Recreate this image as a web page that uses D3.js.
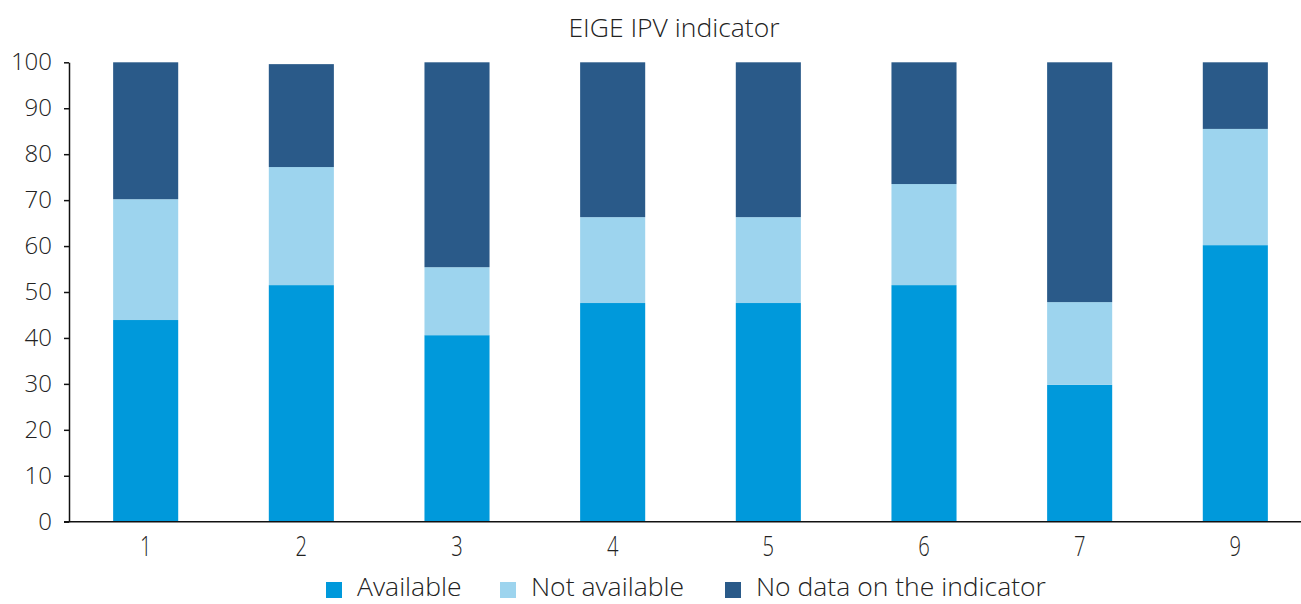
<!DOCTYPE html>
<html>
<head>
<meta charset="utf-8">
<script src="https://cdn.jsdelivr.net/npm/d3@7"></script>
<style>
  body { margin: 0; background: #fff; }
  text { font-family: 'Open Sans', sans-serif; font-weight: 300; fill: #222; }
</style>
</head>
<body>
<div id="chart"></div>
<script>
// values, in percent
const categories = ['1', '2', '3', '4', '5', '6', '7', '9'];
const available = [43.9, 51.5, 40.6, 47.6, 47.6, 51.5, 29.8, 60.2];
const notAvailable = [26.3, 25.7, 14.8, 18.7, 18.7, 22.0, 18.0, 25.3];
const noData = [29.8, 22.4, 44.6, 33.7, 33.7, 26.5, 52.2, 14.5];
const seriesNames = ['Available', 'Not available', 'No data on the indicator'];
const yTicks = [0, 10, 20, 30, 40, 50, 60, 70, 80, 90, 100];

const colors = ['#0099db', '#9dd4ee', '#2a5a89'];

const width = 1301, height = 604;
const margin = {top: 62.3, right: -12, bottom: 82.3, left: 68};

const svg = d3.select('#chart').append('svg')
    .attr('width', width)
    .attr('height', height);

const x = d3.scaleBand()
    .domain(categories)
    .range([margin.left, width - margin.right])
    .paddingInner(0.582)
    .paddingOuter(0.29);

const y = d3.scaleLinear()
    .domain([0, 100])
    .range([height - margin.bottom, margin.top]);

// rows for d3.stack
const rows = categories.map((c, i) => ({
  cat: c,
  'Available': available[i],
  'Not available': notAvailable[i],
  'No data on the indicator': noData[i]
}));
const stacked = d3.stack().keys(seriesNames)(rows);

svg.append('g')
  .selectAll('g')
  .data(stacked)
  .join('g')
    .attr('fill', (d, i) => colors[i])
  .selectAll('rect')
  .data(d => d)
  .join('rect')
    .attr('x', d => x(d.data.cat))
    .attr('width', x.bandwidth())
    .attr('y', d => y(d[1]))
    .attr('height', d => y(d[0]) - y(d[1]));

// Y axis
const yAxis = svg.append('g')
    .attr('transform', 'translate(' + (margin.left + 1) + ',0)')
    .call(d3.axisLeft(y).tickValues(yTicks).tickSize(5).tickSizeOuter(0).tickPadding(12));
yAxis.select('.domain').attr('stroke', '#111').attr('stroke-width', 1.5);
yAxis.selectAll('.tick line').attr('stroke', '#111').attr('stroke-width', 1.5);
yAxis.selectAll('.tick text')
    .style('font-size', '24px')
    .attr('fill', '#222');

// X axis
const xAxis = svg.append('g')
    .attr('transform', 'translate(0,' + y(0) + ')')
    .call(d3.axisBottom(x).tickSize(0).tickPadding(14));
xAxis.select('.domain')
    .attr('d', 'M' + (margin.left - 4) + ',0H' + width)
    .attr('stroke', '#111').attr('stroke-width', 1.5);
xAxis.selectAll('.tick text')
    .style('font-size', '28px')
    .attr('transform', 'scale(0.72,1)')   // labels look condensed in the original
    .attr('fill', '#222');

// title
svg.append('text')
    .attr('x', 674)
    .attr('y', 37)
    .attr('text-anchor', 'middle')
    .style('font-size', '26.5px')
    .text('EIGE IPV indicator');

// legend (kept a touch higher so the text fits in the frame)
const legendX = [326, 500, 725];
const legend = svg.append('g');
seriesNames.forEach((name, i) => {
  legend.append('rect')
      .attr('x', legendX[i])
      .attr('y', 582)
      .attr('width', 16)
      .attr('height', 16)
      .attr('fill', colors[i]);
  legend.append('text')
      .attr('x', legendX[i] + 31)
      .attr('y', 596)
      .style('font-size', '26.5px')
      .text(name);
});
</script>
</body>
</html>
